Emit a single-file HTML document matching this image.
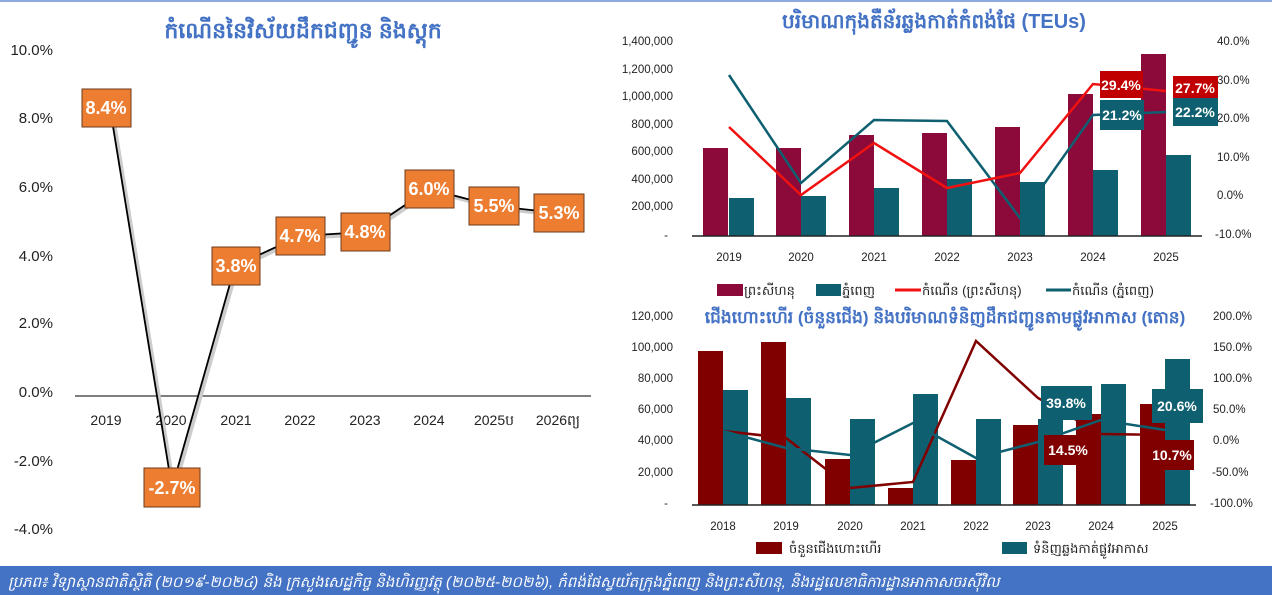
<!DOCTYPE html>
<html><head><meta charset="utf-8"><style>
html,body{margin:0;padding:0;background:#fff;}
svg{display:block;font-family:"Liberation Sans",sans-serif;}
</style></head><body>
<svg width="1272" height="595" viewBox="0 0 1272 595" xmlns="http://www.w3.org/2000/svg">
<rect x="0" y="0" width="1272" height="595" fill="#fff"/>
<line x1="0" y1="1" x2="1272" y2="1" stroke="#8ea9db" stroke-width="2"/>

<!-- LEFT CHART -->
<text x="303" y="38" text-anchor="middle" font-size="22" fill="#4472c4" font-weight="bold">កំណើននៃវិស័យដឹកជញ្ជូន និងស្តុក</text>
<g font-size="15" fill="#222" text-anchor="end">
<text x="53" y="55">10.0%</text><text x="53" y="123">8.0%</text><text x="53" y="192">6.0%</text>
<text x="53" y="261">4.0%</text><text x="53" y="328">2.0%</text><text x="53" y="397">0.0%</text>
<text x="53" y="466">-2.0%</text><text x="53" y="534">-4.0%</text>
</g>
<line x1="75" y1="396" x2="591" y2="396" stroke="#555" stroke-width="1.5"/>
<g font-size="14" fill="#222" text-anchor="middle">
<text x="106" y="425">2019</text><text x="171" y="425">2020</text><text x="236" y="425">2021</text>
<text x="300" y="425">2022</text><text x="365" y="425">2023</text><text x="429" y="425">2024</text>
<text x="494" y="425">2025ប</text><text x="558" y="425">2026ព្យ</text>
</g>
<polyline points="110,108 172,488 235,266 300,236 365,232 429,189 494,206 558,213" fill="none" stroke="#ccc" stroke-width="4" transform="translate(2,2)"/>
<polyline points="110,108 172,488 235,266 300,236 365,232 429,189 494,206 558,213" fill="none" stroke="#000" stroke-width="1.8"/>
<g fill="#ed7d31" stroke="#6b3a1a" stroke-width="1">
<rect x="82" y="89" width="49" height="38"/>
<rect x="144" y="468" width="56" height="39"/>
<rect x="212" y="247" width="48" height="38"/>
<rect x="276" y="217" width="49" height="38"/>
<rect x="341" y="213" width="49" height="38"/>
<rect x="405" y="170" width="49" height="38"/>
<rect x="469" y="187" width="50" height="38"/>
<rect x="534" y="194" width="50" height="38"/>
</g>
<g font-size="18" fill="#fff" font-weight="bold" text-anchor="middle">
<text x="106" y="114">8.4%</text><text x="172" y="494">-2.7%</text><text x="236" y="272">3.8%</text>
<text x="300" y="242">4.7%</text><text x="365" y="238">4.8%</text><text x="429" y="195">6.0%</text>
<text x="494" y="212">5.5%</text><text x="559" y="219">5.3%</text>
</g>

<!-- TOP RIGHT CHART -->
<text x="934" y="28" text-anchor="middle" font-size="20" fill="#4472c4" font-weight="bold">បរិមាណកុងតឺន័រឆ្លងកាត់កំពង់ផែ (TEUs)</text>
<g font-size="11.5" fill="#222" text-anchor="end">
<text x="673" y="45">1,400,000</text><text x="673" y="73">1,200,000</text><text x="673" y="100">1,000,000</text>
<text x="673" y="128">800,000</text><text x="673" y="155">600,000</text><text x="673" y="183">400,000</text>
<text x="673" y="210">200,000</text><text x="668" y="239">-</text>
</g>
<g font-size="11.5" fill="#222">
<text x="1217" y="45">40.0%</text><text x="1217" y="84">30.0%</text><text x="1217" y="122">20.0%</text>
<text x="1217" y="161">10.0%</text><text x="1217" y="199">0.0%</text><text x="1215" y="238">-10.0%</text>
</g>
<g fill="#8b0a3a">
<rect x="703" y="148" width="25" height="88"/><rect x="776" y="148" width="25" height="88"/>
<rect x="849" y="135" width="25" height="101"/><rect x="922" y="133" width="25" height="103"/>
<rect x="995" y="127" width="25" height="109"/><rect x="1068" y="94" width="25" height="142"/>
<rect x="1141" y="54" width="25" height="182"/>
</g>
<g fill="#0e5f70">
<rect x="729" y="198" width="25" height="38"/><rect x="801" y="196" width="25" height="40"/>
<rect x="874" y="188" width="25" height="48"/><rect x="947" y="179" width="25" height="57"/>
<rect x="1020" y="182" width="25" height="54"/><rect x="1093" y="170" width="25" height="66"/>
<rect x="1166" y="155" width="25" height="81"/>
</g>
<line x1="692" y1="236" x2="1202" y2="236" stroke="#222" stroke-width="1.5"/>
<polyline points="729,75 801,183 874,120 947,121 1020,218 1093,115 1166,112" fill="none" stroke="#0e5f70" stroke-width="2.5"/>
<polyline points="729,127 801,195 874,143 947,188 1020,173 1093,84 1166,91" fill="none" stroke="#f01010" stroke-width="2.5"/>
<rect x="1100" y="71" width="43" height="27" fill="#c00000"/>
<rect x="1173" y="76" width="45" height="22" fill="#c00000"/>
<rect x="1100" y="100" width="44" height="30" fill="#0e5f70"/>
<rect x="1173" y="98" width="45" height="28" fill="#0e5f70"/>
<g font-size="14" fill="#fff" font-weight="bold" text-anchor="middle">
<text x="1121" y="90">29.4%</text><text x="1195" y="93">27.7%</text>
<text x="1122" y="120">21.2%</text><text x="1195" y="117">22.2%</text>
</g>
<g font-size="11.5" fill="#222" text-anchor="middle">
<text x="729" y="261">2019</text><text x="801" y="261">2020</text><text x="874" y="261">2021</text>
<text x="947" y="261">2022</text><text x="1020" y="261">2023</text><text x="1093" y="261">2024</text><text x="1166" y="261">2025</text>
</g>
<rect x="717" y="284" width="26" height="12" fill="#8b0a3a"/>
<rect x="816" y="284" width="25" height="12" fill="#0e5f70"/>
<line x1="895" y1="290" x2="921" y2="290" stroke="#f01010" stroke-width="3"/>
<line x1="1046" y1="290" x2="1071" y2="290" stroke="#0e5f70" stroke-width="3"/>
<g font-size="13" fill="#222">
<text x="744" y="295">ព្រះសីហនុ</text><text x="842" y="295">ភ្នំពេញ</text>
<text x="922" y="295">កំណើន (ព្រះសីហនុ)</text><text x="1072" y="295">កំណើន (ភ្នំពេញ)</text>
</g>

<!-- BOTTOM RIGHT CHART -->
<text x="945" y="323" text-anchor="middle" font-size="17" fill="#4472c4" font-weight="bold">ជើងហោះហើរ (ចំនួនជើង) និងបរិមាណទំនិញដឹកជញ្ជូនតាមផ្លូវអាកាស (តោន)</text>
<g font-size="11.5" fill="#222" text-anchor="end">
<text x="673" y="320">120,000</text><text x="673" y="351">100,000</text><text x="673" y="382">80,000</text>
<text x="673" y="413">60,000</text><text x="673" y="444">40,000</text><text x="673" y="476">20,000</text><text x="668" y="507">-</text>
</g>
<g font-size="11.5" fill="#222">
<text x="1213" y="320">200.0%</text><text x="1213" y="351">150.0%</text><text x="1213" y="382">100.0%</text>
<text x="1213" y="413">50.0%</text><text x="1213" y="444">0.0%</text><text x="1212" y="476">-50.0%</text><text x="1210" y="507">-100.0%</text>
</g>
<g fill="#800000">
<rect x="698" y="351" width="25" height="154"/><rect x="761" y="342" width="25" height="163"/>
<rect x="825" y="459" width="25" height="46"/><rect x="888" y="488" width="25" height="17"/>
<rect x="951" y="460" width="25" height="45"/><rect x="1013" y="425" width="25" height="80"/>
<rect x="1076" y="414" width="25" height="91"/><rect x="1140" y="404" width="25" height="101"/>
</g>
<g fill="#0e5f70">
<rect x="723" y="390" width="25" height="115"/><rect x="786" y="398" width="25" height="107"/>
<rect x="850" y="419" width="25" height="86"/><rect x="913" y="394" width="25" height="111"/>
<rect x="976" y="419" width="25" height="86"/><rect x="1038" y="419" width="25" height="86"/>
<rect x="1101" y="384" width="25" height="121"/><rect x="1165" y="359" width="25" height="146"/>
</g>
<line x1="692" y1="505" x2="1196" y2="505" stroke="#222" stroke-width="1.5"/>
<polyline points="723,431 786,438 850,488 913,482 976,341 1038,398 1101,434 1165,435" fill="none" stroke="#800000" stroke-width="2.5"/>
<polyline points="723,431 786,448 850,455 913,423 976,458 1038,442 1101,420 1165,430" fill="none" stroke="#0e5f70" stroke-width="2.5"/>
<rect x="1041" y="386" width="51" height="34" fill="#0e5f70"/>
<rect x="1044" y="435" width="49" height="30" fill="#800000"/>
<rect x="1152" y="389" width="51" height="34" fill="#0e5f70"/>
<rect x="1151" y="440" width="43" height="30" fill="#800000"/>
<g font-size="14" fill="#fff" font-weight="bold" text-anchor="middle">
<text x="1066" y="408">39.8%</text><text x="1068" y="455">14.5%</text>
<text x="1177" y="411">20.6%</text><text x="1172" y="460">10.7%</text>
</g>
<g font-size="11.5" fill="#222" text-anchor="middle">
<text x="723" y="530">2018</text><text x="786" y="530">2019</text><text x="850" y="530">2020</text><text x="913" y="530">2021</text>
<text x="976" y="530">2022</text><text x="1038" y="530">2023</text><text x="1101" y="530">2024</text><text x="1165" y="530">2025</text>
</g>
<rect x="756" y="542" width="26" height="12" fill="#800000"/>
<rect x="1002" y="542" width="25" height="12" fill="#0e5f70"/>
<g font-size="13" fill="#222">
<text x="789" y="553">ចំនួនជើងហោះហើរ</text><text x="1033" y="553">ទំនិញឆ្លងកាត់ផ្លូវអាកាស</text>
</g>

<!-- FOOTER -->
<rect x="0" y="566" width="1272" height="29" fill="#4472c4"/>
<text x="8" y="587" font-size="15" fill="#fff" font-style="italic">ប្រភព៖ វិទ្យាស្ថានជាតិស្ថិតិ (២០១៩-២០២៤) និង ក្រសួងសេដ្ឋកិច្ច និងហិរញ្ញវត្ថុ (២០២៥-២០២៦), កំពង់ផែស្វយ័តក្រុងភ្នំពេញ និងព្រះសីហនុ, និងរដ្ឋលេខាធិការដ្ឋានអាកាសចរស៊ីវិល</text>
</svg>
</body></html>
